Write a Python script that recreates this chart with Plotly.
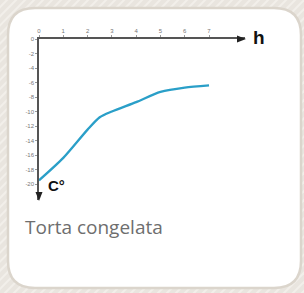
import plotly.graph_objects as go

# ---- data ----
hours = [0, 1, 2, 2.5, 3, 4, 5, 6, 7]
temps = [-19.5, -16.4, -12.5, -10.8, -10.0, -8.7, -7.3, -6.7, -6.4]
x_ticks = [0, 1, 2, 3, 4, 5, 6, 7]
x_ticktext = ["0", "1", "2", "3", "4", "5", "6", "7"]
y_ticks = [0, -2, -4, -6, -8, -10, -12, -14, -16, -18, -20]
y_ticktext = ["0", "-2", "-4", "-6", "-8", "-10", "-12", "-14", "-16", "-18", "-20"]
caption = "Torta congelata"

W, H = 304, 293
L, T, R, B = 39, 39, 245, 200  # plot area in pixels
PX_PER_H = 24.29
PX_PER_DEG = 7.25


def px(x):
    return (x - L) / (R - L)


def py(y):
    return (B - y) / (B - T)


fig = go.Figure()
fig.add_trace(go.Scatter(
    x=hours, y=temps, mode="lines",
    line=dict(color="#2a9fc8", width=2.3, shape="spline", smoothing=0.7),
    hoverinfo="skip", showlegend=False,
))

shapes = []
bg = "#e9e5df"
# diagonal background stripes
for i in range(-40, 80):
    x0 = i * 9
    shapes.append(dict(type="line", xref="paper", yref="paper", layer="below",
                       x0=px(x0), y0=py(H + 5), x1=px(x0 + 300), y1=py(-5),
                       line=dict(color="#f2efea", width=2)))
# card
r = 27
x0c, y0c, x1c, y1c = 8, 8, 301, 288
path = (f"M {px(x0c + r)} {py(y0c)} L {px(x1c - r)} {py(y0c)} "
        f"Q {px(x1c)} {py(y0c)} {px(x1c)} {py(y0c + r)} "
        f"L {px(x1c)} {py(y1c - r)} Q {px(x1c)} {py(y1c)} {px(x1c - r)} {py(y1c)} "
        f"L {px(x0c + r)} {py(y1c)} Q {px(x0c)} {py(y1c)} {px(x0c)} {py(y1c - r)} "
        f"L {px(x0c)} {py(y0c + r)} Q {px(x0c)} {py(y0c)} {px(x0c + r)} {py(y0c)} Z")
shapes.append(dict(type="path", xref="paper", yref="paper", layer="below", path=path,
                   fillcolor="white", line=dict(color="#dbd5cc", width=2.5)))
# arrow heads
shapes.append(dict(type="path", xref="paper", yref="paper",
                   path=f"M {px(237)} {py(35.5)} L {px(246)} {py(39)} L {px(237)} {py(42.5)} Z",
                   fillcolor="#222", line=dict(width=0)))
shapes.append(dict(type="path", xref="paper", yref="paper",
                   path=f"M {px(35.5)} {py(192)} L {px(39)} {py(201)} L {px(42.5)} {py(192)} Z",
                   fillcolor="#222", line=dict(width=0)))

annotations = [
    dict(text="h", xref="paper", yref="paper", x=px(251), y=py(37), xanchor="left",
         yanchor="middle", showarrow=False,
         font=dict(family="Liberation Sans", size=19, color="#111", weight="bold")),
    dict(text="C°", xref="paper", yref="paper", x=px(46), y=py(185), xanchor="left",
         yanchor="middle", showarrow=False,
         font=dict(family="Liberation Sans", size=15, color="#111", weight="bold")),
    dict(text=caption, xref="paper", yref="paper", x=px(23), y=py(227), xanchor="left",
         yanchor="middle", showarrow=False,
         font=dict(family="Open Sans", size=19, color="#6e6e6e")),
]

fig.update_layout(
    width=W, height=H,
    margin=dict(l=L, t=T, r=W - R, b=H - B, pad=0),
    paper_bgcolor=bg, plot_bgcolor="rgba(0,0,0,0)",
    shapes=shapes, annotations=annotations,
    xaxis=dict(range=[0, (R - L) / PX_PER_H], side="top", showgrid=False, zeroline=False,
               showline=True, linecolor="#555", linewidth=1.5,
               tickvals=x_ticks, ticktext=x_ticktext, ticks="outside", ticklen=2,
               tickcolor="#999", tickfont=dict(size=6, color="#777", family="Liberation Sans"),
               fixedrange=True),
    yaxis=dict(range=[-(B - T) / PX_PER_DEG, 0], showgrid=False, zeroline=False,
               showline=True, linecolor="#555", linewidth=1.5,
               tickvals=y_ticks, ticktext=y_ticktext, ticks="outside", ticklen=2,
               tickcolor="#999", tickfont=dict(size=6, color="#777", family="Liberation Sans"),
               fixedrange=True),
)

fig.write_html(
    "out.html",
    config={"displayModeBar": False},
    post_script="document.body.style.margin='0';document.body.style.overflow='hidden';"
                "document.body.style.background='" + bg + "';",
)
